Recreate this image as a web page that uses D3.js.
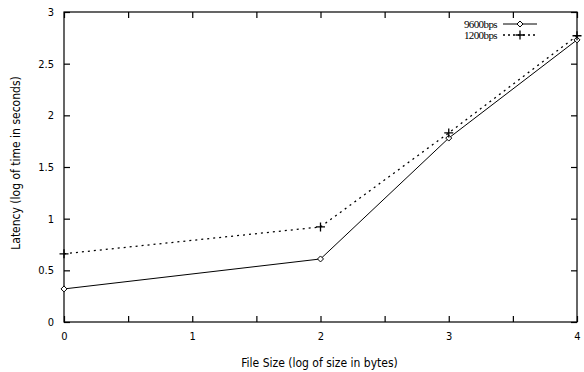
<!DOCTYPE html>
<html>
<head>
<meta charset="utf-8">
<script src="https://cdn.jsdelivr.net/npm/d3@7"></script>
<style>
  body { margin: 0; background: #fff; }
  svg { display: block; }
</style>
</head>
<body>
<svg id="chart" width="584" height="372"></svg>
<script>
// log10 of file size (bytes) vs log10 of latency (s)
const fileSizes = [0, 2, 3, 4];
const lat9600 = [0.32, 0.61, 1.78, 2.73];
const lat1200 = [0.66, 0.92, 1.83, 2.77];
const xTicks = [0, 0.5, 1, 1.5, 2, 2.5, 3, 3.5, 4];
const yTicks = [0, 0.5, 1, 1.5, 2, 2.5, 3];

const W = 584, H = 372;
const M = { top: 12, right: 7, bottom: 50, left: 64 };
const CW = W - M.left - M.right;
const CH = H - M.top - M.bottom;
const TICK = 6;

const svg = d3.select("#chart");
const g = svg.append("g").attr("transform", `translate(${M.left},${M.top})`);

const x = d3.scaleLinear().domain([0, 4]).range([0, CW]);
const y = d3.scaleLinear().domain([0, 3]).range([CH, 0]);

const tickFont = "'DejaVu Sans Condensed', 'DejaVu Sans', sans-serif";

// frame
g.append("rect").attr("width", CW).attr("height", CH)
  .attr("fill", "none").attr("stroke", "#000").attr("stroke-width", 1.2);

// inward ticks, mirrored on all sides
const axStyle = ax => {
  ax.select(".domain").remove();
  ax.selectAll(".tick line").attr("stroke", "#000").attr("stroke-width", 1.2);
  ax.selectAll(".tick text").attr("font-family", tickFont).attr("font-size", "11px").attr("fill", "#000");
};
g.append("g").attr("transform", `translate(0,${CH})`)
  .call(d3.axisBottom(x).tickValues(xTicks).tickSize(-TICK).tickPadding(10)
    .tickFormat(d => Number.isInteger(d) ? d : ""))
  .call(axStyle);
g.append("g")
  .call(d3.axisTop(x).tickValues(xTicks).tickSize(-TICK).tickFormat(""))
  .call(axStyle);
g.append("g")
  .call(d3.axisLeft(y).tickValues(yTicks).tickSize(-TICK).tickPadding(10).tickFormat(d3.format("")))
  .call(axStyle);
g.append("g").attr("transform", `translate(${CW},0)`)
  .call(d3.axisRight(y).tickValues(yTicks).tickSize(-TICK).tickFormat(""))
  .call(axStyle);

// axis titles
svg.append("text").attr("x", M.left + CW / 2 - 1).attr("y", 367)
  .attr("text-anchor", "middle").attr("font-family", tickFont).attr("font-size", "12px")
  .text("File Size (log of size in bytes)");
svg.append("text").attr("transform", `translate(20,${M.top + CH / 2 - 4}) rotate(-90)`)
  .attr("text-anchor", "middle").attr("font-family", tickFont).attr("font-size", "12px")
  .text("Latency (log of time in seconds)");

const line = d3.line().x(d => x(d[0])).y(d => y(d[1]));
const pts9600 = fileSizes.map((f, i) => [f, lat9600[i]]);
const pts1200 = fileSizes.map((f, i) => [f, lat1200[i]]);

g.append("path").datum(pts1200).attr("d", line)
  .attr("fill", "none").attr("stroke", "#000").attr("stroke-width", 1.3)
  .attr("stroke-dasharray", "2,4");
g.append("path").datum(pts9600).attr("d", line)
  .attr("fill", "none").attr("stroke", "#000").attr("stroke-width", 1);

const diamond = (sel, cx, cy) => sel.append("path")
  .attr("d", `M${cx},${cy - 3}L${cx + 3},${cy}L${cx},${cy + 3}L${cx - 3},${cy}Z`)
  .attr("fill", "#fff").attr("stroke", "#000").attr("stroke-width", 1);
const plus = (sel, cx, cy) => sel.append("path")
  .attr("d", `M${cx - 4.5},${cy}H${cx + 4.5}M${cx},${cy - 4.5}V${cy + 4.5}`)
  .attr("stroke", "#000").attr("stroke-width", 1.3);

pts9600.forEach(p => diamond(g, x(p[0]), y(p[1])));
pts1200.forEach(p => plus(g, x(p[0]), y(p[1])));

// legend
const legend = [
  { label: "9600bps", dash: null, mark: diamond },
  { label: "1200bps", dash: "2,3", mark: plus },
];
const leg = svg.append("g").attr("transform", "translate(497,24)");
legend.forEach((d, i) => {
  const ly = i * 11;
  leg.append("text").attr("x", 0).attr("y", ly + 3.5).attr("text-anchor", "end")
    .attr("font-family", "'Liberation Serif', serif").attr("font-size", "11px")
    .attr("letter-spacing", "-0.6px").text(d.label);
  leg.append("line").attr("x1", 6).attr("x2", 40).attr("y1", ly).attr("y2", ly)
    .attr("stroke", "#000").attr("stroke-width", d.dash ? 1.3 : 1)
    .attr("stroke-dasharray", d.dash);
  d.mark(leg, 23, ly);
});
</script>
</body>
</html>
